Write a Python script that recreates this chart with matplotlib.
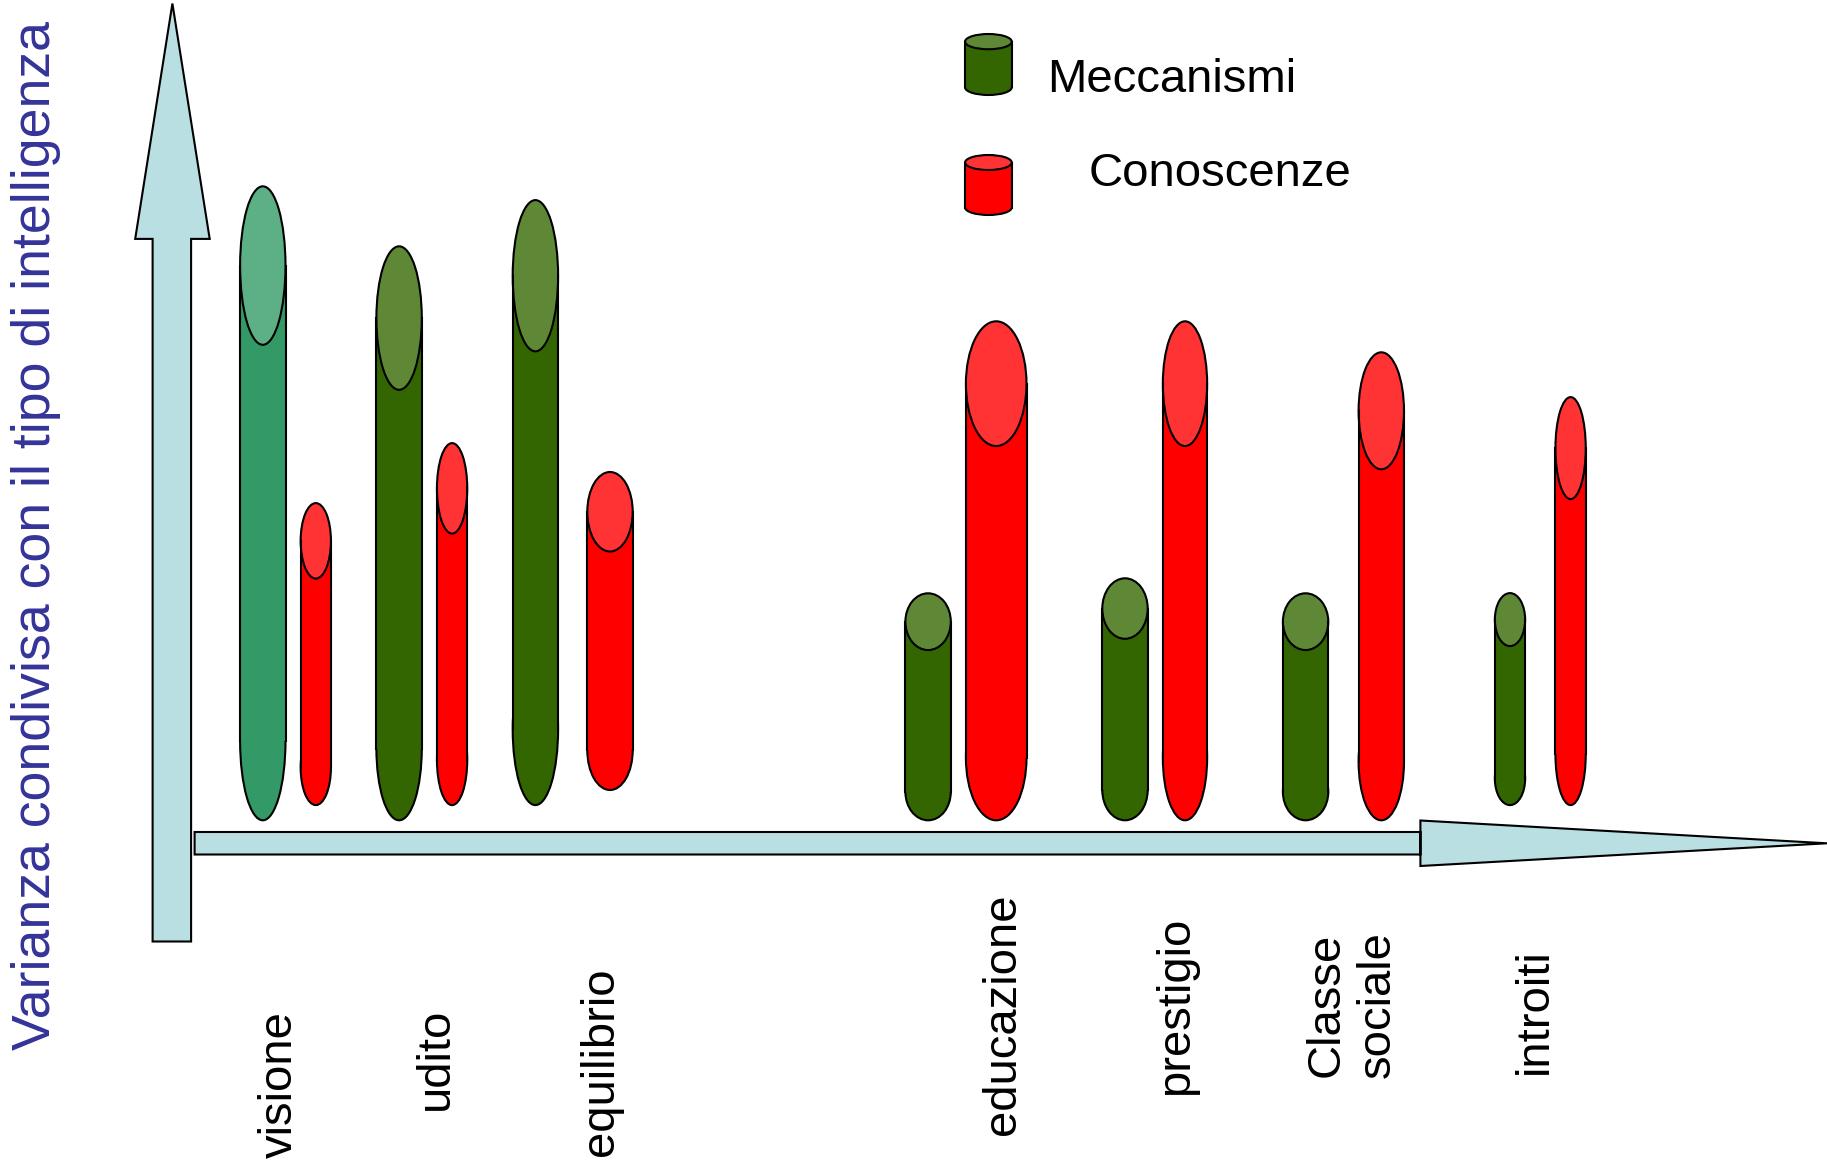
import matplotlib.pyplot as plt
from matplotlib import font_manager
from matplotlib.patches import Ellipse, Rectangle, Polygon

# dati: varianza condivisa (unita' arbitrarie)
categorie = ['visione', 'udito', 'equilibrio', 'educazione', 'prestigio', 'Classe\nsociale', 'introiti']
meccanismi = [63.4, 57.4, 60.5, 22.7, 24.2, 22.7, 21.2]
conoscenze = [30.2, 36.2, 31.8, 49.9, 49.9, 46.8, 40.8]

# disposizione dei cilindri (stesse unita')
x_mec = [26.28, 39.91, 53.54, 92.81, 112.50, 130.56, 151.00]
x_con = [31.58, 45.21, 61.00, 99.62, 118.50, 138.13, 157.06]
w_mec = [4.54, 4.54, 4.54, 4.54, 4.54, 4.54, 3.03]
w_con = [3.03, 3.03, 4.54, 6.06, 4.43, 4.54, 3.03]
base_mec = [34.27, 34.27, 35.79, 34.27, 34.27, 34.27, 35.79]
base_con = [35.79, 35.79, 37.30, 34.27, 34.27, 34.27, 35.79]
pos_etichette = [(27.96, 7.88), (43.58, 10.38), (60.07, 10.09), (100.26, 14.87),
                 (117.63, 15.75), (135.22, 15.80), (153.51, 15.22)]

verde = ('#336600', '#5E8836')
verde_acqua = ('#339966', '#5DAF85')
rosso = ('#FF0000', '#FF3333')
azzurro = '#B9DFE3'
lw = 1.5

# font stretto per l'etichetta verticale, se c'e'
try:
    font_manager.findfont(font_manager.FontProperties(family='Liberation Sans Narrow'),
                          fallback_to_default=False)
    font_stretto = 'Liberation Sans Narrow'
except ValueError:
    font_stretto = 'Liberation Sans'

fig = plt.figure(figsize=(18.27, 11.63), dpi=100)
ax = fig.add_axes([0, 0, 1, 1])
ax.set_xlim(0, 182.7)
ax.set_ylim(0, 116.3)
ax.axis('off')


def cilindro(x, base, h, w, colori):
    corpo, tappo = colori
    c = h * 0.25  # altezza dell'ellisse
    ax.add_patch(Ellipse((x, base + c / 2), w, c, facecolor=corpo, edgecolor='black', lw=lw))
    ax.add_patch(Rectangle((x - w / 2, base + c / 2), w, h - c, facecolor=corpo, edgecolor='none'))
    ax.plot([x - w / 2, x - w / 2], [base + c / 2, base + h - c / 2], color='black', lw=lw)
    ax.plot([x + w / 2, x + w / 2], [base + c / 2, base + h - c / 2], color='black', lw=lw)
    ax.add_patch(Ellipse((x, base + h - c / 2), w, c, facecolor=tappo, edgecolor='black', lw=lw))


for i in range(len(categorie)):
    col = verde_acqua if i == 0 else verde
    cilindro(x_mec[i], base_mec[i], meccanismi[i], w_mec[i], col)
    cilindro(x_con[i], base_con[i], conoscenze[i], w_con[i], rosso)
    ax.text(pos_etichette[i][0], pos_etichette[i][1], categorie[i], rotation=90,
            ha='center', va='center', multialignment='center',
            fontsize=34, family='Liberation Sans', linespacing=1.2)

# frecce degli assi
freccia_y = [(15.26, 22.15), (19.11, 22.15), (19.11, 92.41), (20.97, 92.41),
             (17.24, 115.95), (13.52, 92.41), (15.26, 92.41)]
freccia_x = [(19.46, 30.85), (142.04, 30.85), (142.04, 34.25), (182.7, 31.97),
             (142.04, 29.7), (142.04, 33.1), (19.46, 33.1)]
ax.add_patch(Polygon(freccia_y, closed=True, facecolor=azzurro, edgecolor='black', lw=lw))
ax.add_patch(Polygon(freccia_x, closed=True, facecolor=azzurro, edgecolor='black', lw=lw))

# legenda
cilindro(98.84, 106.8, 6.1, 4.67, verde)
cilindro(98.84, 94.8, 6.0, 4.67, rosso)
ax.text(104.67, 107.15, 'Meccanismi', ha='left', va='baseline', fontsize=34, family='Liberation Sans')
ax.text(108.83, 97.7, 'Conoscenze', ha='left', va='baseline', fontsize=34, family='Liberation Sans')

# etichetta verticale, adattata alla lunghezza voluta
yl = ax.text(3.6, 62.7, 'Varianza condivisa con il tipo di intelligenza', rotation=90,
             ha='center', va='center', color='#333399', fontsize=38, family=font_stretto)
r = fig.canvas.get_renderer()
lung = yl.get_window_extent(renderer=r).height
yl.set_fontsize(38 * 1025 / lung)

fig.savefig('out.png', dpi=100)
